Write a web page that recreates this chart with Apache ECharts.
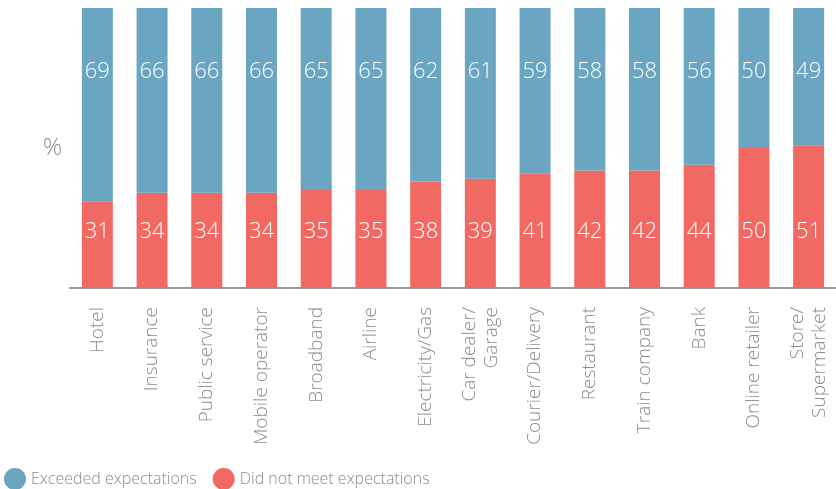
<!DOCTYPE html>
<html>
<head>
<meta charset="utf-8">
<script src="https://cdn.jsdelivr.net/npm/echarts@6/dist/echarts.min.js"></script>
<style>
  html, body { margin: 0; padding: 0; background: #ffffff; }
  #chart { width: 836px; height: 489px; }
</style>
</head>
<body>
<div id="chart"></div>
<script>
// Sectors, ordered by share of customers whose expectations were exceeded
const categories = [
  'Hotel', 'Insurance', 'Public service', 'Mobile operator', 'Broadband',
  'Airline', 'Electricity/Gas', 'Car dealer/\nGarage', 'Courier/Delivery',
  'Restaurant', 'Train company', 'Bank', 'Online retailer', 'Store/\nSupermarket'
];
// Percentages per sector
const didNotMeet = [31, 34, 34, 34, 35, 35, 38, 39, 41, 42, 42, 44, 50, 51];
const exceeded   = [69, 66, 66, 66, 65, 65, 62, 61, 59, 58, 58, 56, 50, 49];

const BLUE = '#6aa6c1';
const RED = '#f26963';
const GREY = '#8c8c8c';
const FONT = '"Open Sans", Lato, sans-serif';

const chart = echarts.init(document.getElementById('chart'));

chart.setOption({
  animation: false,
  textStyle: { fontFamily: FONT },
  grid: { left: 70, top: 8, width: 770, height: 280 },
  legend: {
    left: 4,
    top: 468,
    padding: 0,
    itemGap: 16,
    itemWidth: 22,
    itemHeight: 22,
    icon: 'circle',
    textStyle: { fontFamily: FONT, fontSize: 16, color: GREY, fontWeight: 300 },
    data: ['Exceeded expectations', 'Did not meet expectations']
  },
  xAxis: {
    type: 'category',
    data: categories,
    axisLine: { lineStyle: { color: '#9a9a9a', width: 2 } },
    axisTick: { show: false },
    axisLabel: {
      rotate: 90,
      margin: 19,
      interval: 0,
      fontFamily: FONT,
      fontWeight: 300,
      fontSize: 19,
      lineHeight: 22,
      color: GREY
    }
  },
  yAxis: {
    type: 'value',
    min: 0,
    max: 100,
    name: '%',
    nameLocation: 'middle',
    nameRotate: 0,
    nameGap: 8,
    nameTextStyle: { fontFamily: FONT, fontWeight: 300, fontSize: 24, color: GREY },
    axisLine: { show: false },
    axisTick: { show: false },
    axisLabel: { show: false },
    splitLine: { show: false }
  },
  series: [
    {
      name: 'Did not meet expectations',
      type: 'bar',
      stack: 'total',
      barWidth: 31,
      data: didNotMeet,
      itemStyle: { color: RED },
      label: {
        show: true,
        position: 'insideBottom',
        distance: 45,
        color: '#ffffff',
        fontFamily: FONT,
        fontWeight: 300,
        fontSize: 22
      }
    },
    {
      name: 'Exceeded expectations',
      type: 'bar',
      stack: 'total',
      barWidth: 31,
      data: exceeded,
      itemStyle: { color: BLUE },
      label: {
        show: true,
        position: ['50%', 64],
        align: 'center',
        verticalAlign: 'middle',
        color: '#ffffff',
        fontFamily: FONT,
        fontWeight: 300,
        fontSize: 22
      }
    }
  ]
});
</script>
</body>
</html>
